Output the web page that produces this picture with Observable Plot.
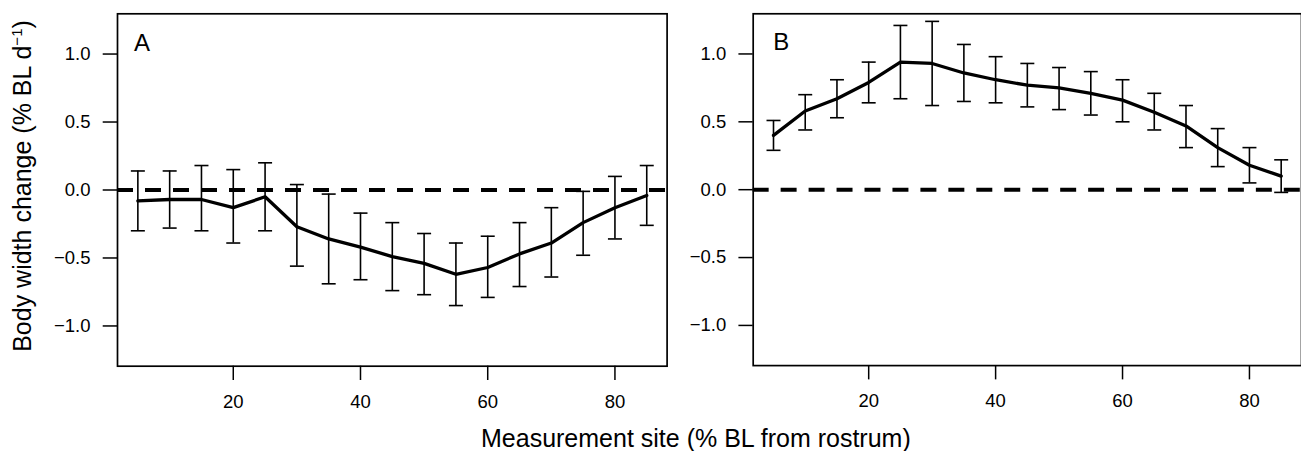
<!DOCTYPE html>
<html>
<head>
<meta charset="utf-8">
<script src="https://cdn.jsdelivr.net/npm/d3@7"></script>
<script src="https://cdn.jsdelivr.net/npm/@observablehq/plot@0.6"></script>
<style>
  html, body { margin: 0; padding: 0; background: white; }
  #wrap { position: relative; width: 1301px; height: 451px; overflow: hidden; background: white; font-family: "Liberation Sans", Arial, sans-serif; color: black; }
  .panel { position: absolute; top: 0; }
  .panel svg { display: block; }
  #ytitle { position: absolute; left: 22px; top: 186px; width: 420px; height: 30px; line-height: 30px; margin-left: -210px; margin-top: -15px; text-align: center; font-size: 25px; transform: rotate(-90deg); white-space: nowrap; }
  #ytitle sup { font-size: 15px; line-height: 0; vertical-align: 9px; }
  #xtitle { position: absolute; left: 481px; top: 421px; height: 34px; line-height: 34px; font-size: 25px; white-space: nowrap; }
</style>
</head>
<body>
<div id="wrap">
  <div id="panelA" class="panel" style="left:0px"></div>
  <div id="panelB" class="panel" style="left:680px"></div>
  <div id="ytitle">Body width change (% BL d<sup>−1</sup>)</div>
  <div id="xtitle">Measurement site (% BL from rostrum)</div>
</div>
<script>
// Measurement sites (% BL from rostrum)
const sites = [5, 10, 15, 20, 25, 30, 35, 40, 45, 50, 55, 60, 65, 70, 75, 80, 85];

// Panel A
const aMean = [-0.08, -0.07, -0.07, -0.13, -0.05, -0.27, -0.36, -0.42, -0.49, -0.54, -0.62, -0.57, -0.47, -0.39, -0.24, -0.13, -0.04];
const aLow  = [-0.30, -0.28, -0.30, -0.39, -0.30, -0.56, -0.69, -0.66, -0.74, -0.77, -0.85, -0.79, -0.71, -0.64, -0.48, -0.36, -0.26];
const aHigh = [0.14, 0.14, 0.18, 0.15, 0.20, 0.04, -0.03, -0.17, -0.24, -0.32, -0.39, -0.34, -0.24, -0.13, -0.01, 0.10, 0.18];

// Panel B
const bMean = [0.40, 0.58, 0.67, 0.79, 0.94, 0.93, 0.86, 0.81, 0.77, 0.75, 0.71, 0.66, 0.57, 0.47, 0.31, 0.18, 0.10];
const bLow  = [0.29, 0.44, 0.53, 0.64, 0.67, 0.62, 0.65, 0.64, 0.61, 0.59, 0.55, 0.50, 0.44, 0.31, 0.17, 0.05, -0.02];
const bHigh = [0.51, 0.70, 0.81, 0.94, 1.21, 1.24, 1.07, 0.98, 0.93, 0.90, 0.87, 0.81, 0.71, 0.62, 0.45, 0.31, 0.22];

// Axis ticks
const xTicks = [20, 40, 60, 80];
const yTicks = [-1.0, -0.5, 0.0, 0.5, 1.0];
const panelLabels = ["A", "B"];

const xDomain = [1.8, 88.2];
const yDomain = [-1.296, 1.296];

const capSymbol = {
  draw(ctx) { ctx.moveTo(-7, 0); ctx.lineTo(7, 0); }
};

function rows(mean, low, high) {
  return sites.map((s, i) => ({site: s, mean: mean[i], low: low[i], high: high[i]}));
}

function panel(data, label, opts) {
  return Plot.plot({
    width: opts.width,
    height: 420,
    marginLeft: opts.marginLeft,
    marginRight: opts.marginRight,
    marginTop: 13.3,
    marginBottom: 54.3,
    style: {fontFamily: "'Liberation Sans', Arial, sans-serif", fontSize: "18.5px", background: "white", color: "black", overflow: "visible"},
    x: {domain: xDomain},
    y: {domain: yDomain},
    marks: [
      Plot.ruleY([0], {stroke: "black", strokeWidth: 4, strokeDasharray: "16,12"}),
      Plot.ruleX(data, {x: "site", y1: "low", y2: "high", stroke: "black", strokeWidth: 1.6}),
      Plot.dot(data, {x: "site", y: "low", symbol: capSymbol, stroke: "black", strokeWidth: 1.6, fill: "none"}),
      Plot.dot(data, {x: "site", y: "high", symbol: capSymbol, stroke: "black", strokeWidth: 1.6, fill: "none"}),
      Plot.line(data, {x: "site", y: "mean", stroke: "black", strokeWidth: 3.3, strokeLinejoin: "round"}),
      Plot.frame({stroke: "black", strokeWidth: 1.7}),
      Plot.axisX({ticks: xTicks, tickSize: 14.3, tickPadding: 14, tickFormat: d3.format("d"), label: null, strokeWidth: 1.5, fontSize: 18.5}),
      Plot.axisY({ticks: yTicks, tickSize: 14.3, tickPadding: 12.7, tickFormat: d3.format(".1f"), label: null, strokeWidth: 1.5, fontSize: 18.5}),
      Plot.text([label], {text: d => d, frameAnchor: "top-left", textAnchor: "start", lineAnchor: "top", dx: opts.labelDx, dy: 19.7, fontSize: 24, fill: "black"})
    ]
  });
}

document.getElementById("panelA").appendChild(
  panel(rows(aMean, aLow, aHigh), panelLabels[0], {width: 680, marginLeft: 117, marginRight: 13.4, labelDx: 16.5})
);
document.getElementById("panelB").appendChild(
  panel(rows(bMean, bLow, bHigh), panelLabels[1], {width: 622, marginLeft: 72.8, marginRight: 0, labelDx: 20})
);
</script>
</body>
</html>
